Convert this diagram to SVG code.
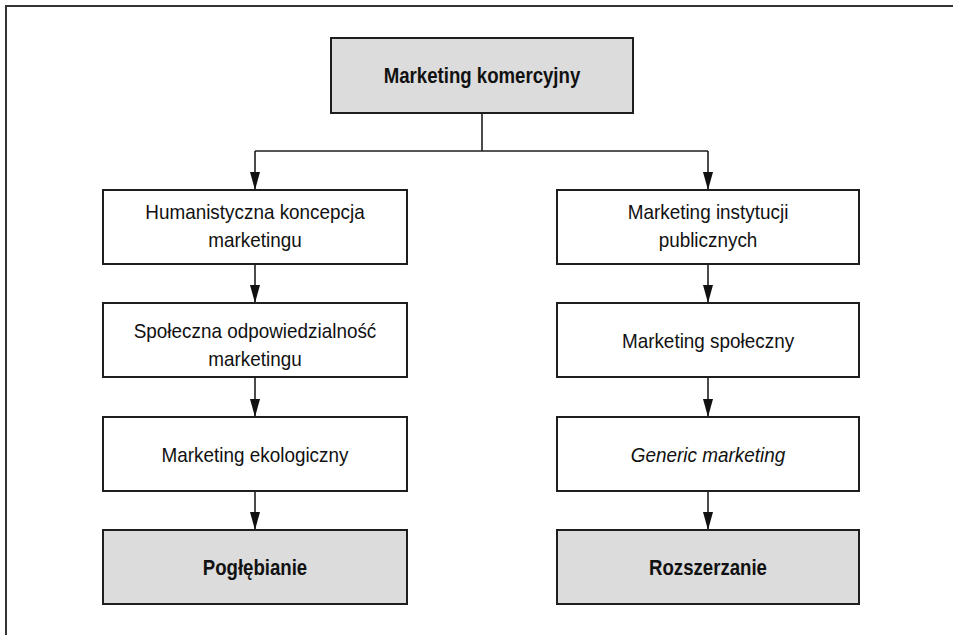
<svg xmlns="http://www.w3.org/2000/svg" width="953" height="635" viewBox="0 0 953 635">
  <style>
    .box { fill: #ffffff; stroke: #1e1e1e; stroke-width: 2; }
    .hl { fill: #dcdcdc; }
    .lbl { font-family: "Liberation Sans", Arial, sans-serif; font-size: 21px; fill: #111; text-anchor: middle; }
    .b { font-weight: bold; font-size: 23px; }
    .i { font-style: italic; }
    .wire { fill: none; stroke: #1e1e1e; stroke-width: 1.6; }
    .frame { fill: none; stroke: #333; stroke-width: 2; }
  </style>
  <defs>
    <marker id="tip" markerUnits="userSpaceOnUse" viewBox="0 0 18 10" markerWidth="18" markerHeight="10" refX="18" refY="5" orient="auto">
      <path d="M0,0 L18,5 L0,10 Z" fill="#111"/>
    </marker>
  </defs>

  <rect width="953" height="635" fill="#ffffff"/>
  <!-- page frame: top and left rules -->
  <path class="frame" d="M6,635 V6 H953"/>

  <g id="connectors">
    <path class="wire" d="M482,113 V151"/>
    <path class="wire" d="M255,151 H708"/>
    <path class="wire" d="M255,151 V190" marker-end="url(#tip)"/>
    <path class="wire" d="M708,151 V190" marker-end="url(#tip)"/>
    <path class="wire" d="M255,264 V303" marker-end="url(#tip)"/>
    <path class="wire" d="M255,377 V417" marker-end="url(#tip)"/>
    <path class="wire" d="M255,491 V530" marker-end="url(#tip)"/>
    <path class="wire" d="M708,264 V303" marker-end="url(#tip)"/>
    <path class="wire" d="M708,377 V417" marker-end="url(#tip)"/>
    <path class="wire" d="M708,491 V530" marker-end="url(#tip)"/>
  </g>

  <!-- labels are set in a condensed cut: horizontal squeeze around each anchor -->
  <g id="marketing-komercyjny">
    <rect class="box hl" x="331" y="38" width="302" height="75"/>
    <text class="lbl b" transform="translate(482,83) scale(0.81,1)">Marketing komercyjny</text>
  </g>

  <g id="humanistyczna">
    <rect class="box" x="103" y="190" width="304" height="74"/>
    <text class="lbl" transform="translate(255,219) scale(0.9,1)">Humanistyczna koncepcja</text>
    <text class="lbl" transform="translate(255,247) scale(0.9,1)">marketingu</text>
  </g>
  <g id="spoleczna-odpowiedzialnosc">
    <rect class="box" x="103" y="303" width="304" height="74"/>
    <text class="lbl" transform="translate(255,338) scale(0.9,1)">Społeczna odpowiedzialność</text>
    <text class="lbl" transform="translate(255,366) scale(0.9,1)">marketingu</text>
  </g>
  <g id="ekologiczny">
    <rect class="box" x="103" y="417" width="304" height="74"/>
    <text class="lbl" transform="translate(255,462) scale(0.9,1)">Marketing ekologiczny</text>
  </g>
  <g id="poglebianie">
    <rect class="box hl" x="103" y="530" width="304" height="74"/>
    <text class="lbl b" transform="translate(255,575) scale(0.81,1)">Pogłębianie</text>
  </g>

  <g id="instytucji-publicznych">
    <rect class="box" x="557" y="190" width="302" height="74"/>
    <text class="lbl" transform="translate(708,219) scale(0.9,1)">Marketing instytucji</text>
    <text class="lbl" transform="translate(708,247) scale(0.9,1)">publicznych</text>
  </g>
  <g id="spoleczny">
    <rect class="box" x="557" y="303" width="302" height="74"/>
    <text class="lbl" transform="translate(708,348) scale(0.9,1)">Marketing społeczny</text>
  </g>
  <g id="generic">
    <rect class="box" x="557" y="417" width="302" height="74"/>
    <text class="lbl i" transform="translate(708,462) scale(0.9,1)">Generic marketing</text>
  </g>
  <g id="rozszerzanie">
    <rect class="box hl" x="557" y="530" width="302" height="74"/>
    <text class="lbl b" transform="translate(708,575) scale(0.81,1)">Rozszerzanie</text>
  </g>
</svg>
